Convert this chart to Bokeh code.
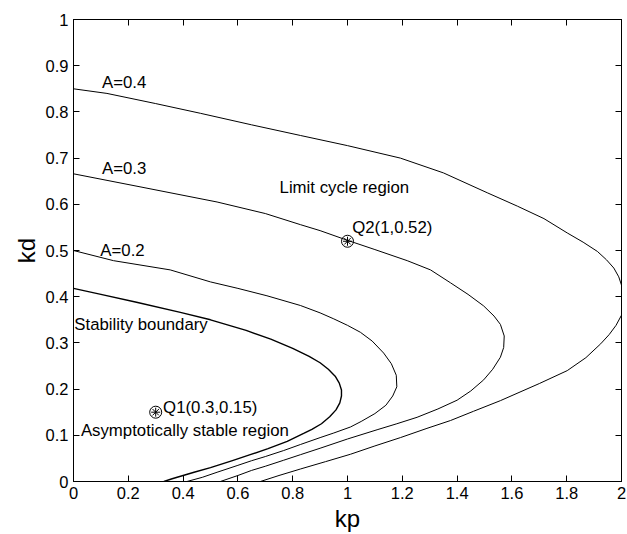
from bokeh.plotting import figure
from bokeh.models import LinearAxis, FixedTicker, ColumnDataSource, Range1d
from bokeh.core.properties import value
from bokeh.embed import file_html
from bokeh.resources import INLINE

# ---- data ----
sb_kp = [0.0, 0.10, 0.23, 0.39, 0.50, 0.63, 0.72, 0.80, 0.86, 0.90, 0.93, 0.955, 0.97, 0.978, 0.978,
         0.972, 0.958, 0.935, 0.905, 0.87, 0.84, 0.78, 0.71, 0.645, 0.58, 0.50, 0.44, 0.40, 0.36, 0.33]
sb_kd = [0.418, 0.405, 0.388, 0.366, 0.350, 0.327, 0.308, 0.288, 0.271, 0.257, 0.243, 0.228, 0.213, 0.198, 0.185,
         0.170, 0.155, 0.140, 0.125, 0.113, 0.104, 0.087, 0.071, 0.058, 0.045, 0.030, 0.020, 0.013, 0.006, 0.0]

a2_kp = [0.0, 0.146, 0.353, 0.50, 0.60, 0.706, 0.828, 0.90, 0.95, 1.0, 1.047, 1.09, 1.132, 1.16, 1.178,
         1.18, 1.165, 1.14, 1.10, 1.05, 1.011, 0.95, 0.90, 0.828, 0.767, 0.70, 0.65, 0.60, 0.524, 0.47, 0.414]
a2_kd = [0.500, 0.478, 0.458, 0.432, 0.418, 0.402, 0.381, 0.365, 0.352, 0.338, 0.323, 0.304, 0.278, 0.255, 0.230,
         0.205, 0.185, 0.165, 0.147, 0.130, 0.118, 0.105, 0.095, 0.080, 0.067, 0.054, 0.045, 0.035, 0.020, 0.009, 0.0]

a3_kp = [0.0, 0.25, 0.524, 0.70, 0.828, 0.90, 1.0, 1.10, 1.218, 1.303, 1.376, 1.44, 1.497, 1.535, 1.558,
         1.572, 1.57, 1.558, 1.53, 1.497, 1.45, 1.40, 1.33, 1.254, 1.18, 1.108, 1.0, 0.90, 0.828, 0.767,
         0.70, 0.65, 0.60, 0.536]
a3_kd = [0.666, 0.637, 0.605, 0.580, 0.556, 0.543, 0.522, 0.502, 0.478, 0.458, 0.430, 0.405, 0.380, 0.358, 0.340,
         0.315, 0.290, 0.269, 0.243, 0.220, 0.196, 0.176, 0.157, 0.139, 0.125, 0.112, 0.092, 0.072, 0.058, 0.046,
         0.033, 0.024, 0.013, 0.0]

a4_kp = [0.0, 0.122, 0.30, 0.463, 0.65, 0.828, 1.0, 1.193, 1.35, 1.51, 1.62, 1.717, 1.802, 1.86, 1.912,
         1.945, 1.972, 1.99, 2.0, 2.01, 2.003, 2.0, 1.98, 1.955, 1.924, 1.87, 1.802, 1.70, 1.558, 1.46,
         1.376, 1.29, 1.193, 1.10, 1.011, 0.92, 0.828, 0.75, 0.682]
a4_kd = [0.850, 0.840, 0.818, 0.797, 0.772, 0.749, 0.727, 0.700, 0.668, 0.625, 0.596, 0.569, 0.538, 0.518, 0.498,
         0.480, 0.462, 0.443, 0.425, 0.400, 0.375, 0.360, 0.338, 0.318, 0.298, 0.268, 0.240, 0.212, 0.175, 0.152,
         0.132, 0.115, 0.095, 0.077, 0.059, 0.043, 0.027, 0.013, 0.0]

q_kp = [0.3, 1.0]
q_kd = [0.15, 0.52]

x_ticks = [0, 0.2, 0.4, 0.6, 0.8, 1.0, 1.2, 1.4, 1.6, 1.8, 2.0]
x_tick_labels = ["0", "0.2", "0.4", "0.6", "0.8", "1", "1.2", "1.4", "1.6", "1.8", "2"]
y_ticks = [0, 0.1, 0.2, 0.3, 0.4, 0.5, 0.6, 0.7, 0.8, 0.9, 1.0]
y_tick_labels = ["0", "0.1", "0.2", "0.3", "0.4", "0.5", "0.6", "0.7", "0.8", "0.9", "1"]

labels = ["A=0.4", "A=0.3", "A=0.2", "Limit cycle region", "Q2(1,0.52)", "Stability boundary",
          "Q1(0.3,0.15)", "Asymptotically stable region"]
label_kp = [0.104, 0.104, 0.098, 0.752, 1.017, 0.003, 0.327, 0.027]
label_kd = [0.863, 0.678, 0.50, 0.637, 0.55, 0.339, 0.160, 0.111]

FONT = "Liberation Sans"

p = figure(frame_width=548, frame_height=462, output_backend="svg", toolbar_location=None,
           x_range=Range1d(0, 2), y_range=Range1d(0, 1),
           min_border_left=73, min_border_right=6, min_border_top=19, min_border_bottom=53)
p.xgrid.visible = False
p.ygrid.visible = False
p.outline_line_color = "black"
p.outline_line_width = 1
p.background_fill_color = "white"
p.border_fill_color = "white"

for kp, kd, w in [(sb_kp, sb_kd, 1.4), (a2_kp, a2_kd, 1.0), (a3_kp, a3_kd, 1.0), (a4_kp, a4_kd, 1.0)]:
    p.line(kp, kd, line_color="black", line_width=w, line_join="round")

p.scatter(q_kp, q_kd, marker="circle", size=12, fill_color=None, line_color="black", line_width=1)
p.scatter(q_kp, q_kd, marker="asterisk", size=9, line_color="black", line_width=1)

src = ColumnDataSource(dict(x=label_kp, y=label_kd, t=labels))
p.text(x="x", y="y", text="t", source=src, text_font=value(FONT), text_font_size="16.8px",
       text_color="black", text_align="left", text_baseline="middle")

xt = dict(zip(x_ticks, x_tick_labels))
yt = dict(zip(y_ticks, y_tick_labels))

def style(ax, show_labels, ticks, overrides):
    ax.ticker = FixedTicker(ticks=ticks)
    ax.major_tick_in = 6
    ax.major_tick_out = 0
    ax.minor_tick_in = 0
    ax.minor_tick_out = 0
    ax.axis_line_color = "black"
    ax.major_tick_line_color = "black"
    ax.major_label_text_font = FONT
    ax.major_label_text_color = "black"
    if show_labels:
        ax.major_label_overrides = overrides
        ax.major_label_text_font_size = "16.5px"
        ax.major_label_standoff = 5
    else:
        ax.major_label_overrides = {t: "" for t in ticks}
        ax.major_label_text_font_size = "0px"
        ax.major_label_standoff = 0
        ax.axis_label_standoff = 0

style(p.xaxis[0], True, x_ticks, xt)
style(p.yaxis[0], True, y_ticks, yt)
p.xaxis[0].axis_label = "kp"
p.yaxis[0].axis_label = "kd"
for ax in (p.xaxis[0], p.yaxis[0]):
    ax.axis_label_text_font = FONT
    ax.axis_label_text_font_size = "24px"
    ax.axis_label_text_font_style = "normal"
    ax.axis_label_text_color = "black"
    ax.axis_label_standoff = 3

top = LinearAxis()
right = LinearAxis()
style(top, False, x_ticks, xt)
style(right, False, y_ticks, yt)
p.add_layout(top, "above")
p.add_layout(right, "right")

open("out.html", "w").write(file_html(p, INLINE))
